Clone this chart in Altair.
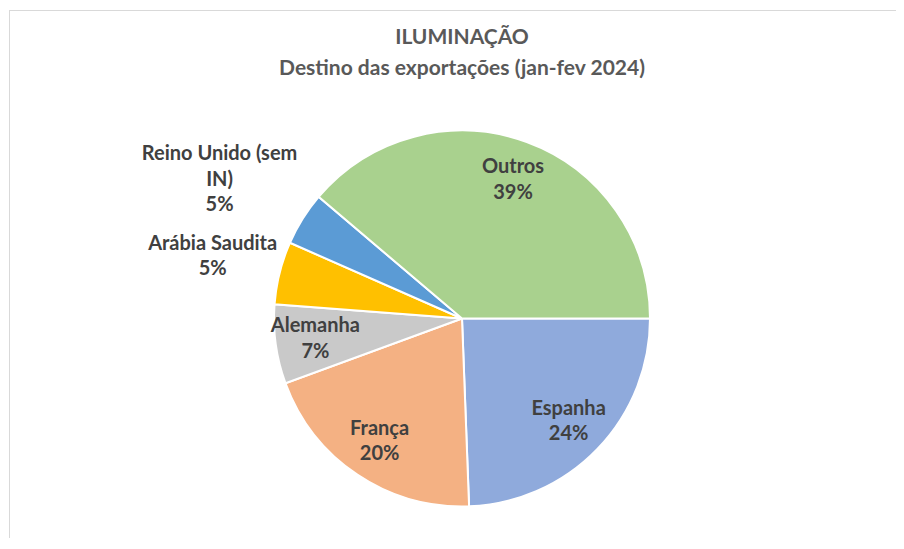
import altair as alt
import pandas as pd

# Data
categories = ["Espanha", "França", "Alemanha", "Arábia Saudita", "Reino Unido (sem IN)", "Outros"]
label_names = ["Espanha", "França", "Alemanha", "Arábia Saudita", "Reino Unido (sem\nIN)", "Outros"]
shares = [24.4, 20.0, 6.8, 5.4, 4.6, 38.8]
colors = ["#8FAADC", "#F4B183", "#C9C9C9", "#FFC000", "#5B9BD5", "#A9D18E"]
title_lines = ["ILUMINAÇÃO", "Destino das exportações (jan-fev 2024)"]

df = pd.DataFrame({
    "cat": categories,
    "lab": label_names,
    "pct": shares,
    "idx": list(range(len(categories))),
})
total = sum(shares)

CX, CY, R = 453, 308.5, 188
FONT = "Lato"
START = 1.5707963
theta_scale = alt.Scale(domain=[0, total], range=[START, START + 6.2831853])

arcs = alt.Chart(df).mark_arc(outerRadius=R, stroke="white", strokeWidth=2).encode(
    theta=alt.Theta("pct:Q", stack=True, scale=theta_scale),
    order=alt.Order("idx:Q", sort="ascending"),
    color=alt.Color("cat:N", scale=alt.Scale(domain=categories, range=colors), legend=None),
    x=alt.value(CX),
    y=alt.value(CY),
)

labels = alt.Chart(df).transform_window(
    cum="sum(pct)", sort=[alt.SortField("idx", order="ascending")]
).transform_calculate(
    mid="datum.cum - datum.pct / 2",
    txt="datum.lab + '\\n' + format(datum.pct, '.0f') + '%'",
    r="datum.pct < 6 ? (indexof(datum.lab, '\\n') >= 0 ? 286 : 257) : 148",
).mark_text(
    font=FONT, fontSize=20, fontWeight="bold", color="#404040",
    lineBreak="\n", lineHeight=25.5, align="center", baseline="middle", dy=-12.5,
).encode(
    theta=alt.Theta("mid:Q", stack=None, scale=theta_scale),
    text="txt:N",
    radius=alt.Radius("r:Q", scale=None),
    x=alt.value(CX),
    y=alt.value(CY),
)

title = alt.Chart(pd.DataFrame({"t": ["\n".join(title_lines)]})).mark_text(
    font=FONT, fontSize=21, fontWeight="bold", color="#595959",
    lineBreak="\n", lineHeight=31, align="center", baseline="middle",
).encode(text="t:N", x=alt.value(CX), y=alt.value(27.5))

border_top = alt.Chart(pd.DataFrame({"a": [0]})).mark_rule(color="#d9d9d9", strokeWidth=1).encode(
    x=alt.value(0), x2=alt.value(900), y=alt.value(0.5)
)
border_left = alt.Chart(pd.DataFrame({"a": [0]})).mark_rule(color="#d9d9d9", strokeWidth=1).encode(
    x=alt.value(0.5), y=alt.value(0), y2=alt.value(560)
)

chart = alt.layer(border_top, border_left, arcs, labels, title).properties(
    width=887, height=528,
    padding={"left": 1, "top": 2, "right": 0, "bottom": 0},
    autosize=alt.AutoSizeParams(type="none"),
).configure_view(stroke=None)

chart.save("out.html", embed_options={"renderer": "svg", "actions": False})
